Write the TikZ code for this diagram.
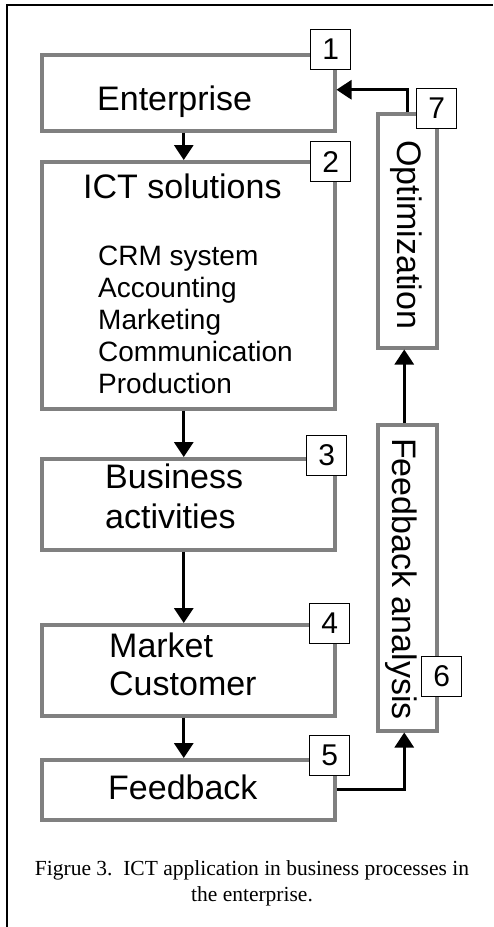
\documentclass[tikz,border=0pt]{standalone}
\usepackage{fontspec}
\setmainfont{Liberation Serif}
\newfontfamily\arialfont{Liberation Sans}
\usetikzlibrary{positioning,arrows.meta}
\definecolor{ink}    {HTML}{000000}
\definecolor{boxgray}{HTML}{808080}
\tikzset{
  % --- nodes
  blk/.style  = {draw=boxgray, line width=3.5pt, fill=white, inner sep=0pt,
                 anchor=north west},
  num/.style  = {draw=ink, line width=1.2pt, fill=white, inner sep=0pt,
                 minimum size=40pt, anchor=north west,
                 font=\arialfont\fontsize{30}{34}\selectfont},
  ttl/.style  = {anchor=base west, inner sep=0pt, text=ink,
                 font=\arialfont\fontsize{34}{38}\selectfont},
  itm/.style  = {anchor=base west, inner sep=0pt, text=ink,
                 font=\arialfont\fontsize{28}{32}\selectfont},
  vttl/.style = {ttl, rotate=-90},
  captxt/.style = {anchor=base, inner sep=0pt, text=ink,
                 font=\fontsize{21.5}{26}\selectfont},
  % --- edges
  e/.style    = {-{Triangle[length=15pt,width=19pt]}, line width=3pt, draw=ink},
}
\begin{document}
\begin{tikzpicture}[x=1pt,y=-1pt]
  \useasboundingbox (0,0) rectangle (493,927);
  \draw[line width=2pt] (7,927) -- (7,5) -- (493,5);

  % process boxes
  \node[blk, minimum width=293pt, minimum height=76pt]  (b1) at (40,53)  {};
  \node[blk, minimum width=293pt, minimum height=247pt] (b2) at (40,160) {};
  \node[blk, minimum width=293pt, minimum height=91pt]  (b3) at (40,457) {};
  \node[blk, minimum width=293pt, minimum height=91pt]  (b4) at (40,623) {};
  \node[blk, minimum width=293pt, minimum height=60pt]  (b5) at (40,758) {};
  \node[blk, minimum width=59pt,  minimum height=306pt] (b6) at (376,423) {};
  \node[blk, minimum width=59pt,  minimum height=234pt] (b7) at (376,112) {};

  % texts
  \node[ttl] (t1)  at (97,110)  {Enterprise};
  \node[ttl] (t2)  at (83,198)  {ICT solutions};
  \foreach \i/\item in {0/CRM system,1/Accounting,2/Marketing,
                        3/Communication,4/Production}
    \node[itm] (item\i) at (98,{265+32*\i}) {\item};
  \node[ttl] (t3a) at (105,488) {Business};
  \node[ttl] (t3b) at (105,528) {activities};
  \node[ttl] (t4a) at (109,657) {Market};
  \node[ttl] (t4b) at (109,695) {Customer};
  \node[ttl] (t5)  at (108,799) {Feedback};
  \node[vttl] (t6) at (392,438) {Feedback analysis};
  \node[vttl] (t7) at (397,140) {Optimization};

  % flow
  \draw[e] ([xshift=-4.5pt]b1.south) -- ([xshift=-4.5pt]b2.north);
  \draw[e] ([xshift=-4.5pt]b2.south) -- ([xshift=-4.5pt]b3.north);
  \draw[e] ([xshift=-4.5pt]b3.south) -- ([xshift=-4.5pt]b4.north);
  \draw[e] ([xshift=-4.5pt]b4.south) -- ([xshift=-4.5pt]b5.north);
  \draw[e] (b5.east) -| ([xshift=-3pt]b6.south);
  \draw[e] ([xshift=-3pt]b6.north) -- ([xshift=-3pt]b7.south);
  \draw[e] (b7.north) |- ([yshift=3pt]b1.east);

  % step numbers
  \foreach \n/\x/\y in {1/310/29,2/310/141,3/306/435,4/309/603,
                        5/309/735,6/421/656,7/416/88}
    \node[num] (n\n) at (\x,\y) {\n};

  % caption
  \node[captxt] (cap1) at (252,875) {Figrue 3.\ \ ICT application in business processes in};
  \node[captxt] (cap2) at (252,901) {the enterprise.};
\end{tikzpicture}
\end{document}
